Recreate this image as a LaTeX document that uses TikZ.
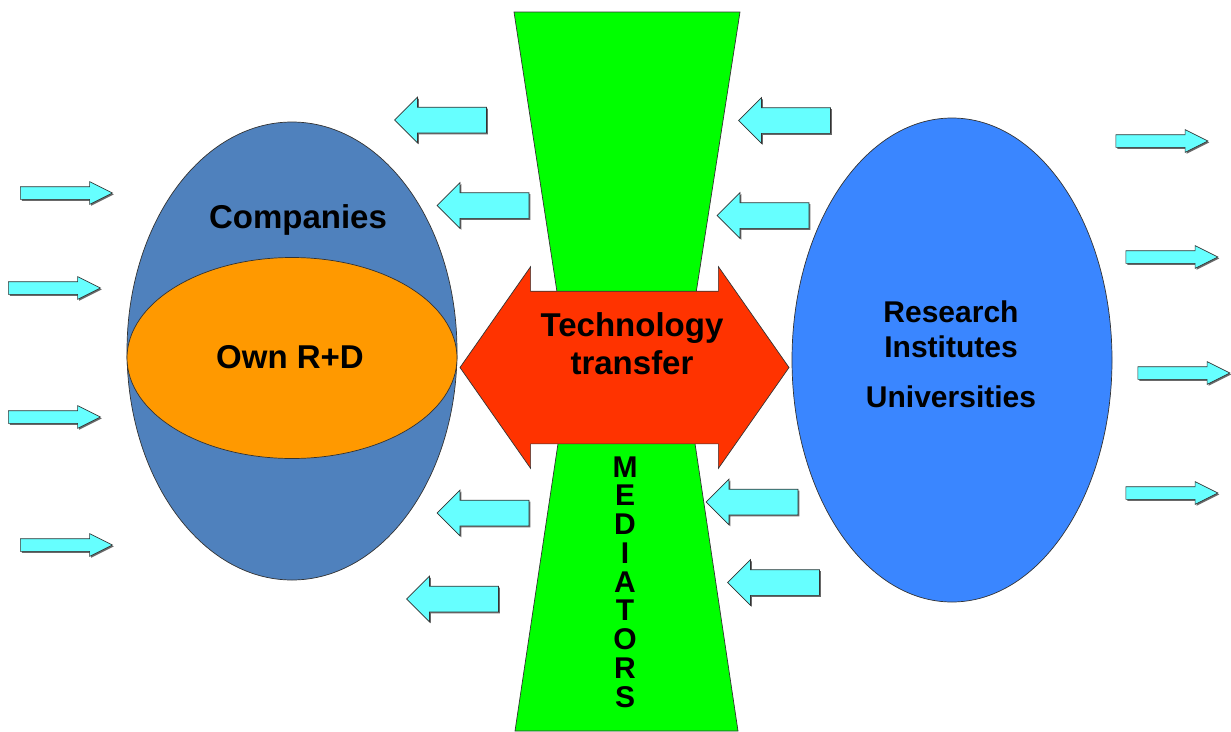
\documentclass[tikz,border=0pt]{standalone}
\usepackage{fontspec}
\setmainfont{Liberation Sans}
\usetikzlibrary{shapes.geometric,shapes.arrows,shadows}
\definecolor{compblue}{HTML}{4F81BD}
\definecolor{rdorange}{HTML}{FF9900}
\definecolor{resblue}{HTML}{3A86FF}
\definecolor{medgreen}{HTML}{00FF00}
\definecolor{ttred}{HTML}{FF3300}
\definecolor{flowcyan}{HTML}{66FFFF}
\definecolor{edgegray}{HTML}{333333}
\tikzset{
  flow/.style={single arrow, fill=flowcyan, draw=edgegray, line width=0.7pt, inner xsep=0pt,
    drop shadow={shadow xshift=1.4pt, shadow yshift=-1.4pt, fill=black!65, opacity=0.9}},
  smallflow/.style={flow, inner ysep=6pt, minimum height=92pt, minimum width=22pt,
    single arrow head extend=5pt, single arrow tip angle=53},
  bigflow/.style={flow, inner ysep=12.5pt, minimum height=92pt, minimum width=45pt,
    single arrow head extend=10pt, single arrow tip angle=90, shape border rotate=180},
  blob/.style={ellipse, draw=edgegray, line width=0.7pt, inner sep=0pt},
  bigtext/.style={font=\bfseries\fontsize{33}{38}\selectfont, text=black, align=center, inner sep=0pt},
  restext/.style={font=\bfseries\fontsize{30}{34}\selectfont, text=black, align=center, inner sep=0pt},
}
\begin{document}
\begin{tikzpicture}[x=1pt,y=-1pt]
\useasboundingbox (0,0) rectangle (1231,731);
\fill[white] (0,0) rectangle (1231,731);
% mediators hourglass
\draw[fill=medgreen, draw=edgegray, line width=0.7pt]
  (514,12) -- (740,12) -- (684,370) -- (738,731) -- (515,731) -- (569,370) -- cycle;
\node[font=\bfseries\fontsize{30}{28.75}\selectfont, align=center, inner sep=0pt] (med) at (625,582)
  {M\\E\\D\\I\\A\\T\\O\\R\\S};
% technology transfer double arrow
\node[double arrow, fill=ttred, draw=edgegray, line width=0.7pt, inner xsep=0pt, inner ysep=76pt,
  minimum height=329pt, minimum width=201pt, double arrow head extend=24.5pt,
  double arrow tip angle=110] (tt) at (624.5,367.5) {};
\node[bigtext] (ttl) at (632,344) {Technology\\transfer};
% companies
\node[blob, fill=compblue, minimum width=330pt, minimum height=458pt] (comp) at (292,351) {};
\node[blob, fill=rdorange, minimum width=330pt, minimum height=201pt] (rd) at (292,358) {};
\node[bigtext] (compl) at (298,220) {Companies};
\node[bigtext] (rdl) at (290,357) {Own R+D};
% research
\node[blob, fill=resblue, minimum width=320pt, minimum height=484pt] (res) at (952,360) {};
\node[restext] (resl) at (951,312) {Research};
\node[restext] (insl) at (951,347) {Institutes};
\node[restext] (unil) at (951,397) {Universities};
% small inflow arrows left
\node[smallflow] (a1) at (60,193) {};
\node[smallflow] (a2) at (48,288) {};
\node[smallflow] (a3) at (48,417) {};
\node[smallflow] (a4) at (60,545) {};
% small outflow arrows right
\node[smallflow] (b1) at (1155.5,141) {};
\node[smallflow] (b2) at (1165.5,257) {};
\node[smallflow] (b3) at (1177.5,373) {};
\node[smallflow] (b4) at (1165.5,493) {};
% big arrows pointing left
\node[bigflow] (c1) at (447,120) {};
\node[bigflow] (c2) at (489.5,205.5) {};
\node[bigflow] (c3) at (791,120.5) {};
\node[bigflow] (c4) at (769.5,215.5) {};
\node[bigflow] (c5) at (489.5,513) {};
\node[bigflow] (c6) at (459,599) {};
\node[bigflow] (c7) at (758.5,502) {};
\node[bigflow] (c8) at (780,582.5) {};
\end{tikzpicture}
\end{document}
